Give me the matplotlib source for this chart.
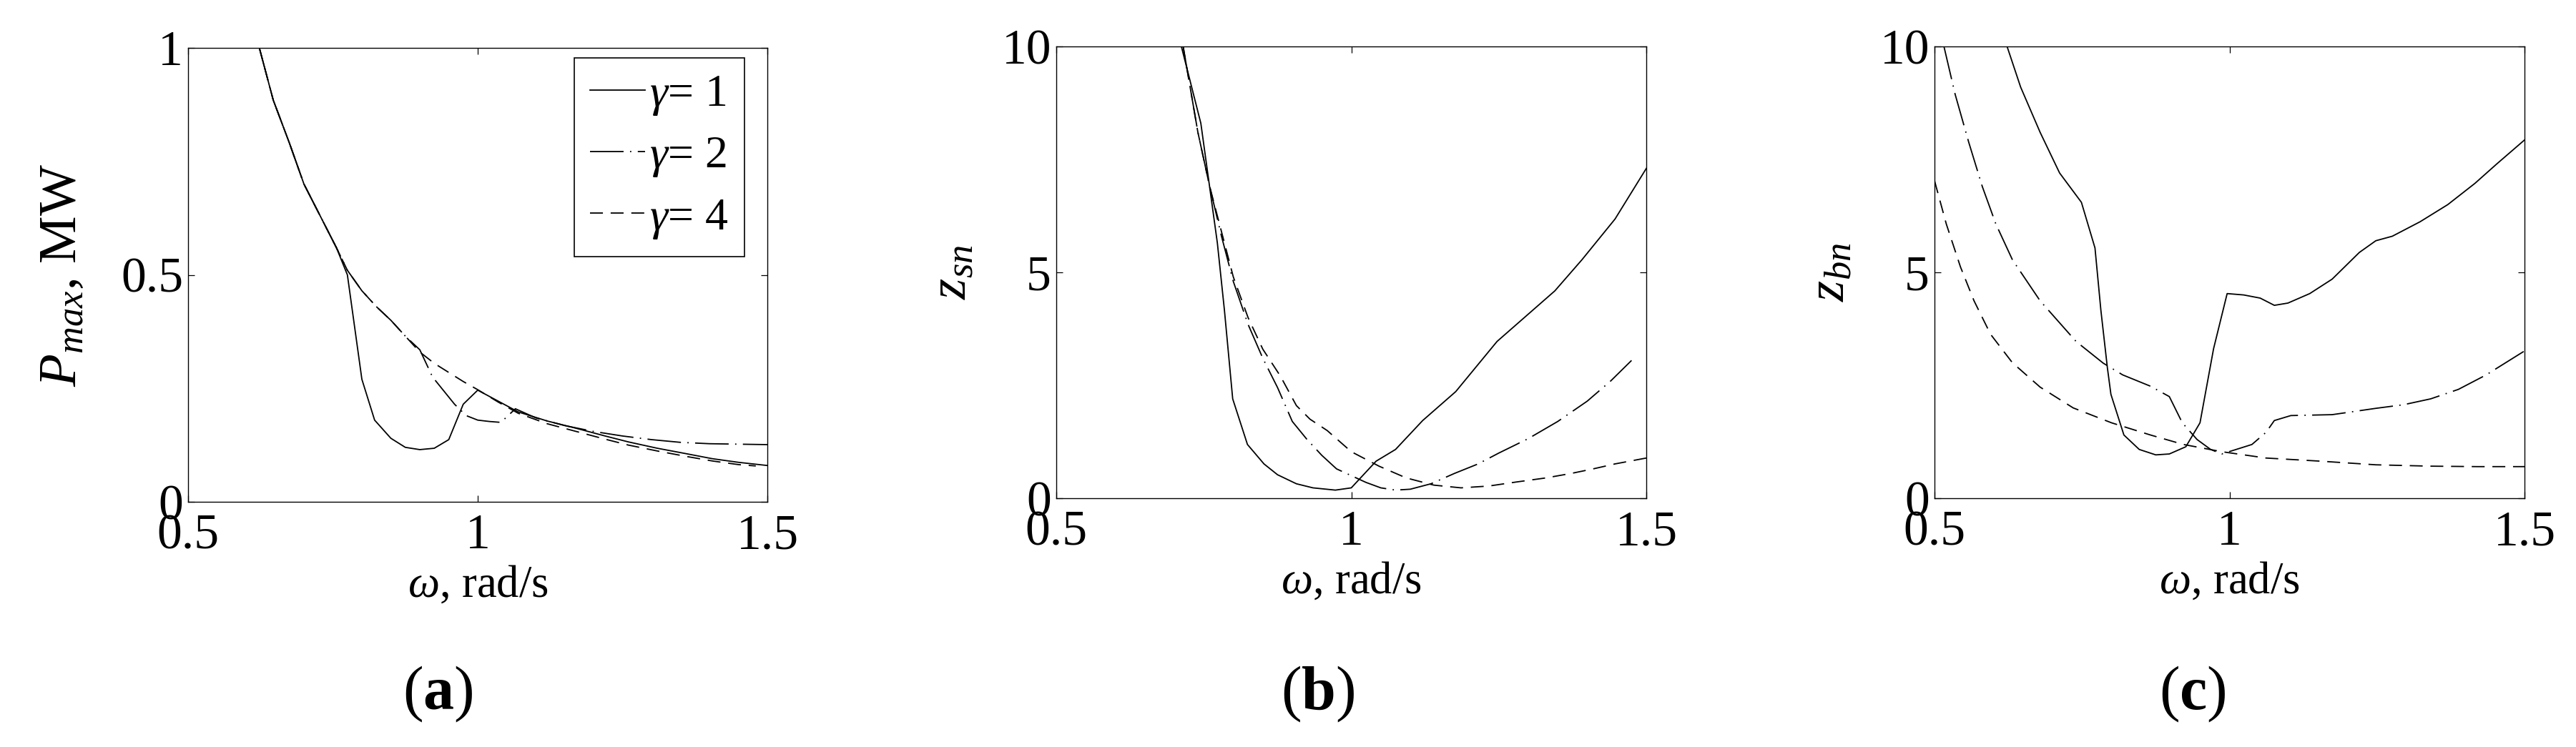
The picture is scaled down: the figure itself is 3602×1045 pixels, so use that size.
import numpy as np
import matplotlib
matplotlib.use("Agg")
import matplotlib.pyplot as plt

plt.rcParams["font.family"] = ["Liberation Serif", "DejaVu Serif"]
plt.rcParams["mathtext.fontset"] = "custom"
plt.rcParams["mathtext.rm"] = "Liberation Serif"
plt.rcParams["mathtext.it"] = "Liberation Serif:italic"
plt.rcParams["mathtext.bf"] = "Liberation Serif:bold"

# ---- data ----
# (a) P_max, MW
w_a1 = [0.623, 0.647, 0.675, 0.70, 0.73, 0.756, 0.775, 0.80, 0.822, 0.85, 0.875, 0.90,
        0.925, 0.95, 0.975, 1.0, 1.035, 1.07, 1.12, 1.17, 1.22, 1.26, 1.31, 1.36, 1.405, 1.45, 1.5]
p_a1 = [1.0, 0.885, 0.79, 0.70, 0.625, 0.56, 0.50, 0.27, 0.18, 0.14, 0.12, 0.115,
        0.118, 0.137, 0.215, 0.246, 0.222, 0.198, 0.178, 0.162, 0.145, 0.132, 0.118, 0.106, 0.095, 0.087, 0.08]
w_a2 = [0.623, 0.647, 0.675, 0.70, 0.73, 0.756, 0.775, 0.80, 0.825, 0.85, 0.875, 0.90, 0.922,
        0.96, 0.98, 1.0, 1.02, 1.04, 1.065, 1.1, 1.15, 1.2, 1.25, 1.3, 1.35, 1.4, 1.45, 1.5]
p_a2 = [1.0, 0.885, 0.79, 0.70, 0.625, 0.56, 0.51, 0.465, 0.43, 0.40, 0.365, 0.335, 0.275,
        0.215, 0.19, 0.18, 0.177, 0.175, 0.205, 0.185, 0.168, 0.155, 0.145, 0.137, 0.131, 0.128, 0.127, 0.126]
w_a4 = [0.623, 0.647, 0.675, 0.70, 0.73, 0.756, 0.775, 0.80, 0.825, 0.85, 0.875, 0.90, 0.925,
        0.95, 0.975, 1.0, 1.035, 1.07, 1.12, 1.17, 1.22, 1.26, 1.31, 1.36, 1.405, 1.45, 1.48]
p_a4 = [1.0, 0.885, 0.79, 0.70, 0.625, 0.56, 0.51, 0.465, 0.43, 0.40, 0.365, 0.33, 0.305,
        0.285, 0.265, 0.247, 0.22, 0.195, 0.172, 0.155, 0.138, 0.125, 0.112, 0.10, 0.09, 0.082, 0.079]

# (b) z_sn
w_b1 = [0.712, 0.745, 0.773, 0.785, 0.799, 0.824, 0.852, 0.875, 0.907, 0.935, 0.973, 1.0,
        1.042, 1.075, 1.121, 1.177, 1.247, 1.289, 1.345, 1.391, 1.447, 1.5]
z_b1 = [10, 8.3, 5.65, 4.16, 2.2, 1.19, 0.76, 0.52, 0.32, 0.23, 0.18, 0.23,
        0.82, 1.08, 1.72, 2.36, 3.47, 3.95, 4.59, 5.28, 6.18, 7.3]
w_b2 = [0.715, 0.74, 0.76, 0.78, 0.80, 0.825, 0.85, 0.875, 0.90, 0.925, 0.95, 0.975, 1.0,
        1.025, 1.05, 1.075, 1.10, 1.135, 1.175, 1.215, 1.25, 1.30, 1.35, 1.40, 1.44, 1.475]
z_b2 = [10, 8.1, 6.9, 5.8, 4.8, 3.85, 3.1, 2.45, 1.7, 1.3, 0.95, 0.65, 0.5,
        0.35, 0.23, 0.18, 0.2, 0.32, 0.55, 0.76, 1.0, 1.32, 1.7, 2.15, 2.6, 3.05]
w_b4 = [0.715, 0.74, 0.76, 0.78, 0.80, 0.825, 0.85, 0.88, 0.907, 0.93, 0.959, 1.0,
        1.047, 1.093, 1.14, 1.186, 1.233, 1.28, 1.33, 1.373, 1.41, 1.447, 1.5]
z_b4 = [10, 8.1, 6.9, 5.9, 4.9, 4.0, 3.3, 2.7, 2.05, 1.75, 1.5, 1.03,
        0.71, 0.45, 0.29, 0.23, 0.27, 0.36, 0.45, 0.55, 0.65, 0.76, 0.89]

# (c) z_bn
w_c1 = [0.623, 0.646, 0.679, 0.712, 0.749, 0.772, 0.782, 0.793, 0.799, 0.821, 0.847, 0.875,
        0.898, 0.926, 0.95, 0.973, 0.996, 1.024, 1.052, 1.076, 1.099, 1.136, 1.174, 1.22,
        1.248, 1.276, 1.323, 1.37, 1.416, 1.453, 1.5]
z_c1 = [10, 9.1, 8.1, 7.2, 6.55, 5.54, 4.16, 2.89, 2.3, 1.4, 1.08, 0.96,
        0.98, 1.14, 1.67, 3.31, 4.53, 4.5, 4.43, 4.27, 4.32, 4.53, 4.85, 5.44,
        5.7, 5.8, 6.12, 6.5, 6.97, 7.4, 7.93]
w_c2 = [0.516, 0.535, 0.558, 0.581, 0.604, 0.632, 0.679, 0.74, 0.786, 0.819, 0.866, 0.898,
        0.92, 0.945, 0.968, 0.987, 1.038, 1.062, 1.076, 1.104, 1.174, 1.248, 1.295, 1.341,
        1.388, 1.435, 1.5]
z_c2 = [10, 8.94, 7.88, 6.9, 6.07, 5.28, 4.37, 3.47, 2.99, 2.73, 2.48, 2.25,
        1.67, 1.3, 1.08, 0.98, 1.19, 1.46, 1.72, 1.83, 1.85, 1.99, 2.07, 2.2,
        2.41, 2.73, 3.26]
w_c4 = [0.5, 0.52, 0.544, 0.567, 0.595, 0.632, 0.679, 0.735, 0.8, 0.866, 0.922, 0.987,
        1.062, 1.155, 1.248, 1.341, 1.42, 1.5]
z_c4 = [7.03, 6.07, 5.12, 4.37, 3.63, 3.0, 2.46, 2.0, 1.67, 1.4, 1.19, 1.03,
        0.89, 0.82, 0.74, 0.71, 0.7, 0.7]

legend_labels = [r"$\gamma$= 1", r"$\gamma$= 2", r"$\gamma$= 4"]
ylabels = [r"$P_{max}$, MW", r"$z_{sn}$", r"$z_{bn}$"]
ylabel_pads = [34, 25, 25]
panel_tags = [r"($\mathbf{a}$)", r"($\mathbf{b}$)", r"($\mathbf{c}$)"]

# ---- figure ----
W, H = 3602, 1045
fig = plt.figure(figsize=(W / 100, H / 100), dpi=100)

def box(x0, x1, y0, y1):
    return [x0 / W, 1 - y1 / H, (x1 - x0) / W, (y1 - y0) / H]

ax_a = fig.add_axes(box(263, 1073, 67, 702))
ax_b = fig.add_axes(box(1477, 2302, 65, 697))
ax_c = fig.add_axes(box(2705, 3530, 65, 697))

lw = 1.3
st1 = dict(color="k", lw=lw, ls="-")
st2 = dict(color="k", lw=lw, ls=(0, (26, 5, 1, 5)))
st4 = dict(color="k", lw=lw, ls=(0, (10, 6)))

ax_a.plot(w_a1, p_a1, label=legend_labels[0], **st1)
ax_a.plot(w_a2, p_a2, label=legend_labels[1], **st2)
ax_a.plot(w_a4, p_a4, label=legend_labels[2], **st4)
ax_a.set_ylim(0, 1)
ax_a.set_yticks([0, 0.5, 1])
ax_a.set_yticklabels(["0", "0.5", "1"])

ax_b.plot(w_b1, z_b1, **st1)
ax_b.plot(w_b2, z_b2, **st2)
ax_b.plot(w_b4, z_b4, **st4)

ax_c.plot(w_c1, z_c1, **st1)
ax_c.plot(w_c2, z_c2, **st2)
ax_c.plot(w_c4, z_c4, **st4)

for ax in (ax_b, ax_c):
    ax.set_ylim(0, 10)
    ax.set_yticks([0, 5, 10])

for ax, yl, pad in zip((ax_a, ax_b, ax_c), ylabels, ylabel_pads):
    ax.set_xlim(0.5, 1.5)
    ax.set_xticks([0.5, 1, 1.5])
    ax.set_xticklabels(["0.5", "1", "1.5"])
    ax.tick_params(direction="in", top=True, right=True, length=6.5, width=0.9,
                   labelsize=50)
    ax.tick_params(axis="x", pad=12)
    ax.tick_params(axis="y", pad=5)
    for s in ax.spines.values():
        s.set_linewidth(1.0)
    ax.set_xlabel(r"$\omega$, rad/s", fontsize=45, labelpad=6)
    ax.set_ylabel(yl, fontsize=54, labelpad=pad)

leg = ax_a.legend(loc="upper right", bbox_to_anchor=(0.9605, 0.978), borderaxespad=0,
                  fontsize=46, frameon=True, fancybox=False, framealpha=1,
                  edgecolor="k", handlelength=1.2, handletextpad=0.1,
                  labelspacing=0.4, borderpad=0.35)
leg.get_frame().set_linewidth(1.2)

for x, tag in zip((612, 1843, 3066), panel_tags):
    fig.text(x / W, 1 - 971 / H, tag, fontsize=62, ha="center", va="center")

fig.savefig("out.png", dpi=100, facecolor="white")
